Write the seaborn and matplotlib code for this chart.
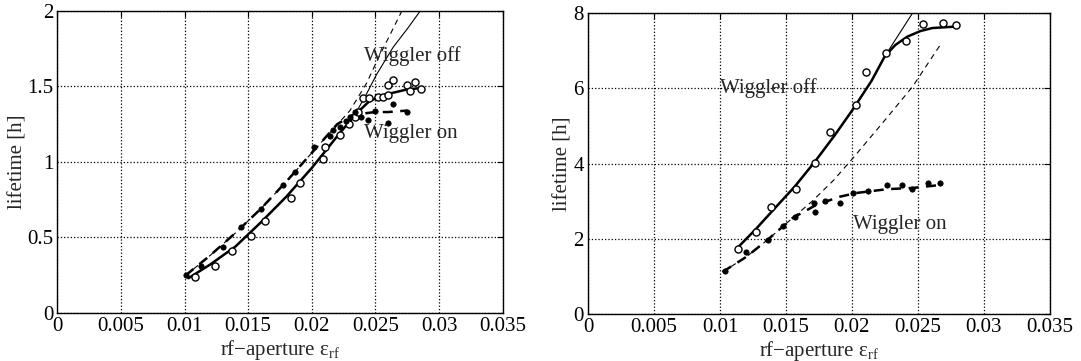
"""Beam lifetime versus rf-aperture, with and without the wiggler."""

from __future__ import annotations

import matplotlib
matplotlib.use("Agg")
import matplotlib.pyplot as plt
import seaborn as sns

# left panel: measured points
LEFT_OFF_X = [0.0108, 0.0124, 0.0137, 0.0152, 0.0163, 0.0184, 0.0191, 0.0209, 0.0210, 0.0222,
              0.0229, 0.0234, 0.0236, 0.0240, 0.0245, 0.0252, 0.0256, 0.0260, 0.0260, 0.0264,
              0.0275, 0.0277, 0.0281, 0.0286]
LEFT_OFF_Y = [0.24, 0.31, 0.41, 0.51, 0.61, 0.76, 0.86, 1.02, 1.10, 1.18,
              1.25, 1.30, 1.33, 1.42, 1.42, 1.43, 1.43, 1.44, 1.51, 1.54,
              1.51, 1.47, 1.53, 1.48]
LEFT_ON_X = [0.0101, 0.0113, 0.0130, 0.0144, 0.0160, 0.0177, 0.0187, 0.0202, 0.0214, 0.0217,
             0.0222, 0.0227, 0.0230, 0.0234, 0.0239, 0.0244, 0.0250, 0.0260, 0.0264, 0.0275]
LEFT_ON_Y = [0.25, 0.31, 0.44, 0.57, 0.69, 0.85, 0.93, 1.10, 1.17, 1.21,
             1.23, 1.27, 1.30, 1.33, 1.30, 1.28, 1.34, 1.26, 1.38, 1.33]

# left panel: fitted curves (thick) and extrapolations (thin)
LEFT_OFF_FIT_X = [0.0103, 0.0120, 0.0140, 0.0160, 0.0180, 0.0200, 0.0220, 0.0235, 0.0245,
                  0.0255, 0.0265, 0.0275, 0.0287]
LEFT_OFF_FIT_Y = [0.23, 0.32, 0.44, 0.60, 0.77, 0.96, 1.17, 1.32, 1.40, 1.44, 1.46, 1.48, 1.49]
LEFT_OFF_EXT_X = [0.0103, 0.0120, 0.0140, 0.0160, 0.0180, 0.0200, 0.0220, 0.0235, 0.0243,
                  0.0251, 0.0264, 0.0275, 0.0287]
LEFT_OFF_EXT_Y = [0.23, 0.32, 0.44, 0.60, 0.77, 0.96, 1.17, 1.33, 1.45, 1.58, 1.76, 1.88, 2.02]
LEFT_ON_FIT_X = [0.0101, 0.0120, 0.0140, 0.0160, 0.0180, 0.0200, 0.0220, 0.0232, 0.0240,
                 0.0250, 0.0260, 0.0275]
LEFT_ON_FIT_Y = [0.25, 0.38, 0.53, 0.69, 0.87, 1.06, 1.25, 1.31, 1.32, 1.33, 1.33, 1.34]
LEFT_ON_EXT_X = [0.0101, 0.0120, 0.0140, 0.0160, 0.0180, 0.0200, 0.0215, 0.0230, 0.0243,
                 0.0253, 0.0262, 0.0272]
LEFT_ON_EXT_Y = [0.25, 0.38, 0.53, 0.69, 0.87, 1.06, 1.20, 1.34, 1.52, 1.70, 1.85, 2.02]

# right panel: measured points
RIGHT_OFF_X = [0.01136, 0.0127, 0.01386, 0.01576, 0.0172, 0.01833, 0.0203, 0.0211, 0.0226,
               0.0241, 0.0254, 0.0269, 0.0279]
RIGHT_OFF_Y = [1.73, 2.18, 2.85, 3.32, 4.02, 4.84, 5.56, 6.44, 6.94, 7.26, 7.71, 7.74, 7.68]
RIGHT_ON_X = [0.0104, 0.0120, 0.01364, 0.0148, 0.0157, 0.0171, 0.0172, 0.0180, 0.0191, 0.0201,
              0.0212, 0.0227, 0.0238, 0.0246, 0.0258, 0.0267]
RIGHT_ON_Y = [1.14, 1.65, 1.97, 2.34, 2.58, 2.95, 2.71, 3.00, 2.95, 3.22,
              3.27, 3.43, 3.43, 3.32, 3.48, 3.48]

# right panel: fitted curves (thick) and extrapolations (thin)
RIGHT_OFF_FIT_X = [0.0113, 0.0127, 0.0140, 0.0157, 0.0172, 0.0187, 0.0201, 0.0215, 0.0225,
                   0.0233, 0.0242, 0.0252, 0.0261, 0.0279]
RIGHT_OFF_FIT_Y = [1.75, 2.25, 2.75, 3.40, 4.05, 4.75, 5.45, 6.20, 6.85, 7.15, 7.37, 7.52,
                   7.60, 7.64]
RIGHT_OFF_EXT_X = [0.0113, 0.0127, 0.0140, 0.0157, 0.0172, 0.0187, 0.0201, 0.0215, 0.0225,
                   0.0247]
RIGHT_OFF_EXT_Y = [1.75, 2.25, 2.75, 3.40, 4.05, 4.75, 5.45, 6.20, 6.85, 8.05]
RIGHT_ON_FIT_X = [0.0102, 0.0120, 0.0136, 0.0155, 0.0173, 0.0191, 0.0204, 0.0227, 0.0246, 0.0267]
RIGHT_ON_FIT_Y = [1.12, 1.52, 1.97, 2.55, 2.90, 3.12, 3.22, 3.32, 3.35, 3.43]
RIGHT_ON_EXT_X = [0.0102, 0.0120, 0.0136, 0.0155, 0.0170, 0.0186, 0.0201, 0.0225, 0.0246, 0.0267]
RIGHT_ON_EXT_Y = [1.12, 1.52, 1.97, 2.55, 3.00, 3.55, 4.15, 5.15, 6.04, 7.15]

X_TICKS = [0, 0.005, 0.01, 0.015, 0.02, 0.025, 0.03, 0.035]
X_LABELS = ["0", "0.005", "0.01", "0.015", "0.02", "0.025", "0.03", "0.035"]
LEFT_Y_TICKS = [0, 0.5, 1, 1.5, 2]
LEFT_Y_LABELS = ["0", "0.5", "1", "1.5", "2"]
RIGHT_Y_TICKS = [0, 2, 4, 6, 8]
RIGHT_Y_LABELS = ["0", "2", "4", "6", "8"]

FONT = "Liberation Serif"
FS = 15
THICK = 1.8
THIN = 0.8


def draw_panel(ax, off_pts, on_pts, off_fit, off_ext, on_fit, on_ext, yticks, ylabels, texts,
               ylabel_x):
    sns.lineplot(x=off_ext[0], y=off_ext[1], ax=ax, color="k", lw=THIN, sort=False, estimator=None)
    sns.lineplot(x=on_ext[0], y=on_ext[1], ax=ax, color="k", lw=THIN, sort=False, estimator=None,
                 linestyle=(0, (5, 4)))
    sns.lineplot(x=off_fit[0], y=off_fit[1], ax=ax, color="k", lw=THICK, sort=False, estimator=None)
    sns.lineplot(x=on_fit[0], y=on_fit[1], ax=ax, color="k", lw=THICK, sort=False, estimator=None,
                 linestyle=(0, (4, 3)))
    sns.scatterplot(x=off_pts[0], y=off_pts[1], ax=ax, marker="o", s=26,
                    facecolor="white", edgecolor="k", linewidth=1.0, zorder=4)
    sns.scatterplot(x=on_pts[0], y=on_pts[1], ax=ax, marker="o", s=15,
                    color="k", edgecolor="k", linewidth=0.5, zorder=4)

    ax.set_xlim(0, 0.035)
    ax.set_ylim(yticks[0], yticks[-1])
    ax.set_xticks(X_TICKS)
    ax.set_xticklabels(X_LABELS)
    ax.set_yticks(yticks)
    ax.set_yticklabels(ylabels)
    ax.grid(True, color="k", linestyle=":", linewidth=0.9)
    ax.tick_params(direction="in", top=True, right=True, length=4, labelsize=FS, pad=3, colors="k")
    for spine in ax.spines.values():
        spine.set_visible(True)
        spine.set_color("k")
        spine.set_linewidth(1.0)
    ax.set_xlabel("rf$-$aperture $\\mathrm{\u03b5}_{\\mathrm{rf}}$", fontsize=FS, labelpad=1)
    ax.set_ylabel("lifetime [h]", fontsize=FS)
    ax.yaxis.set_label_coords(ylabel_x, 0.5)
    for x, y, label in texts:
        ax.text(x, y, label, fontsize=FS, va="center", ha="left", zorder=5)


def main() -> None:
    sns.set_style("white")
    plt.rcParams["font.family"] = [FONT, "DejaVu Serif"]
    plt.rcParams["mathtext.fontset"] = "custom"
    plt.rcParams["mathtext.rm"] = FONT
    plt.rcParams["mathtext.it"] = FONT + ":italic"

    fig = plt.figure(figsize=(10.81, 3.61), dpi=100)
    ax1 = fig.add_axes([0.053, 0.133, 0.412, 0.837])
    ax2 = fig.add_axes([0.544, 0.130, 0.427, 0.834])

    draw_panel(ax1, (LEFT_OFF_X, LEFT_OFF_Y), (LEFT_ON_X, LEFT_ON_Y),
               (LEFT_OFF_FIT_X, LEFT_OFF_FIT_Y), (LEFT_OFF_EXT_X, LEFT_OFF_EXT_Y),
               (LEFT_ON_FIT_X, LEFT_ON_FIT_Y), (LEFT_ON_EXT_X, LEFT_ON_EXT_Y),
               LEFT_Y_TICKS, LEFT_Y_LABELS,
               [(0.0241, 1.70, "Wiggler off"), (0.0241, 1.19, "Wiggler on")], -0.067)
    draw_panel(ax2, (RIGHT_OFF_X, RIGHT_OFF_Y), (RIGHT_ON_X, RIGHT_ON_Y),
               (RIGHT_OFF_FIT_X, RIGHT_OFF_FIT_Y), (RIGHT_OFF_EXT_X, RIGHT_OFF_EXT_Y),
               (RIGHT_ON_FIT_X, RIGHT_ON_FIT_Y), (RIGHT_ON_EXT_X, RIGHT_ON_EXT_Y),
               RIGHT_Y_TICKS, RIGHT_Y_LABELS,
               [(0.0100, 6.0, "Wiggler off"), (0.0201, 2.37, "Wiggler on")], -0.034)

    fig.savefig("out.png", dpi=100)
    plt.close(fig)


if __name__ == "__main__":
    main()
